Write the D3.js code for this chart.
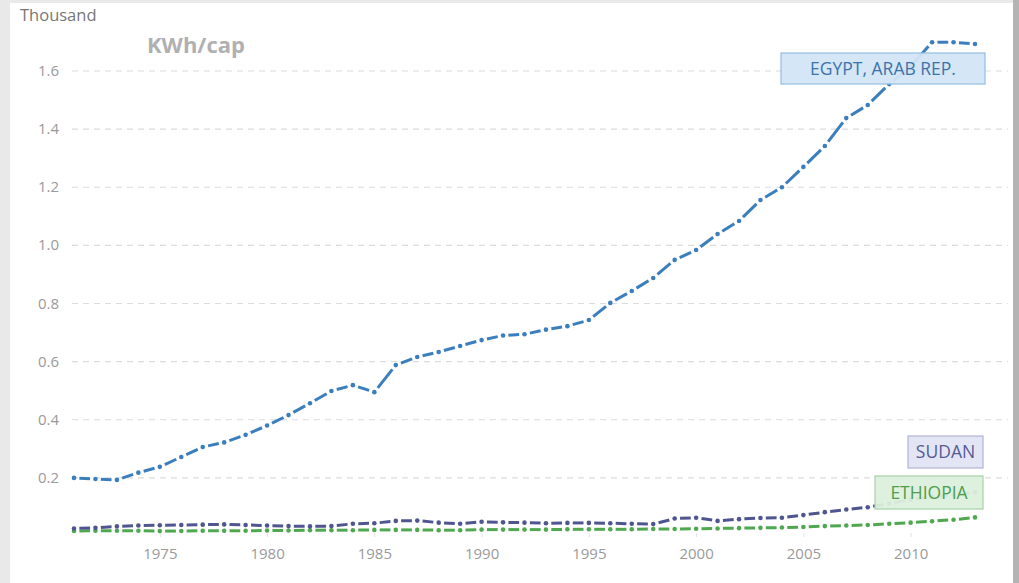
<!DOCTYPE html>
<html>
<head>
<meta charset="utf-8">
<script src="https://cdn.jsdelivr.net/npm/d3@7"></script>
<style>
  body { margin: 0; background: #fff; }
  svg { display: block; font-family: "Open Sans", sans-serif; }
</style>
</head>
<body>
<svg id="chart" width="1019" height="583"></svg>
<script>
// years 1971-2013
const years = [1971, 1972, 1973, 1974, 1975, 1976, 1977, 1978, 1979, 1980,
  1981, 1982, 1983, 1984, 1985, 1986, 1987, 1988, 1989, 1990,
  1991, 1992, 1993, 1994, 1995, 1996, 1997, 1998, 1999, 2000,
  2001, 2002, 2003, 2004, 2005, 2006, 2007, 2008, 2009, 2010,
  2011, 2012, 2013];

// thousand KWh per capita
const egypt = [0.200, 0.196, 0.193, 0.218, 0.238, 0.272, 0.306, 0.322, 0.348, 0.380,
  0.416, 0.457, 0.499, 0.519, 0.495, 0.588, 0.616, 0.633, 0.654, 0.674,
  0.690, 0.694, 0.710, 0.722, 0.743, 0.802, 0.843, 0.888, 0.950, 0.984,
  1.039, 1.084, 1.156, 1.200, 1.270, 1.342, 1.438, 1.483, 1.555, 1.615,
  1.699, 1.699, 1.693];

const sudan = [0.026, 0.028, 0.033, 0.036, 0.037, 0.038, 0.039, 0.040, 0.038, 0.036,
  0.034, 0.033, 0.034, 0.042, 0.044, 0.052, 0.053, 0.046, 0.042, 0.049,
  0.047, 0.046, 0.044, 0.045, 0.045, 0.044, 0.042, 0.041, 0.060, 0.063,
  0.052, 0.058, 0.062, 0.063, 0.072, 0.082, 0.091, 0.099, 0.112, 0.125,
  0.135, 0.142, 0.150];

const ethiopia = [0.017, 0.018, 0.018, 0.018, 0.017, 0.017, 0.018, 0.018, 0.018, 0.019,
  0.019, 0.020, 0.020, 0.020, 0.021, 0.021, 0.021, 0.020, 0.020, 0.022,
  0.022, 0.022, 0.022, 0.023, 0.023, 0.023, 0.023, 0.024, 0.024, 0.025,
  0.026, 0.027, 0.028, 0.029, 0.031, 0.034, 0.036, 0.038, 0.042, 0.046,
  0.051, 0.056, 0.064];

const yTicks = [0.2, 0.4, 0.6, 0.8, 1.0, 1.2, 1.4, 1.6];
const xTicks = [1975, 1980, 1985, 1990, 1995, 2000, 2005, 2010];

const series = [
  { name: 'EGYPT, ARAB REP.', values: egypt, color: '#3b7ebd', fill: '#d3e5f5', stroke: '#93bde0', text: '#3c74aa' },
  { name: 'SUDAN', values: sudan, color: '#4f5591', fill: '#e3e4f3', stroke: '#b1b3d6', text: '#545c97' },
  { name: 'ETHIOPIA', values: ethiopia, color: '#4fa84f', fill: '#dcf0dc', stroke: '#a6d3a6', text: '#4e9e4e' }
];

const svg = d3.select('#chart');
const width = +svg.attr('width');
const height = +svg.attr('height');

// screenshot frame
svg.append('rect').attr('width', width).attr('height', height).attr('fill', '#e9e9e9');
svg.append('rect').attr('x', 10).attr('y', 3).attr('width', 1003).attr('height', height - 3).attr('fill', '#fff');
svg.append('rect').attr('x', 1013).attr('y', 0).attr('width', 6).attr('height', height).attr('fill', '#b4b4b4');

const x = d3.scaleLinear().domain([1971, 2013]).range([74, 975]);
const y = d3.scaleLinear().domain([0, 1.6]).range([536, 71]);

// gridlines
svg.append('g')
  .selectAll('line')
  .data(yTicks)
  .join('line')
  .attr('x1', 72).attr('x2', 1008)
  .attr('y1', d => y(d)).attr('y2', d => y(d))
  .attr('stroke', '#dcdcdc')
  .attr('stroke-width', 1.2)
  .attr('stroke-dasharray', '6,5');

// y labels
svg.append('g')
  .selectAll('text')
  .data(yTicks)
  .join('text')
  .attr('x', 59)
  .attr('y', d => y(d) + 5)
  .attr('text-anchor', 'end')
  .attr('font-size', 15)
  .attr('fill', '#9a9a9a')
  .text(d => d.toFixed(1));

// x axis
const xAxis = svg.append('g')
  .attr('transform', `translate(0,533)`)
  .call(d3.axisBottom(x).tickValues(xTicks).tickFormat(d3.format('d')).tickSize(4).tickPadding(11));
xAxis.select('.domain').remove();
xAxis.selectAll('line').attr('stroke', '#e2e2e2');
xAxis.selectAll('text')
  .attr('font-family', '"Open Sans", sans-serif')
  .attr('font-size', 15)
  .attr('fill', '#9a9a9a');

svg.append('text')
  .attr('x', 20).attr('y', 21)
  .attr('font-size', 16.5)
  .attr('fill', '#777')
  .text('Thousand');

svg.append('text')
  .attr('x', 147).attr('y', 53)
  .attr('font-size', 22)
  .attr('font-weight', 'bold')
  .attr('fill', '#b0b0b0')
  .text('KWh/cap');

// lines: dash between points, dot on each point
const drawOrder = [series[2], series[1], series[0]];
drawOrder.forEach(s => {
  const pts = years.map((yr, i) => [x(yr), y(s.values[i])]);
  const segs = d3.pairs(pts).map(([a, b]) => {
    const dx = b[0] - a[0], dy = b[1] - a[1];
    const len = Math.hypot(dx, dy);
    const gap = Math.min(5.5, len / 4);
    return {
      x1: a[0] + dx * gap / len, y1: a[1] + dy * gap / len,
      x2: b[0] - dx * gap / len, y2: b[1] - dy * gap / len
    };
  });
  const g = svg.append('g');
  g.selectAll('line')
    .data(segs)
    .join('line')
    .attr('x1', d => d.x1).attr('y1', d => d.y1)
    .attr('x2', d => d.x2).attr('y2', d => d.y2)
    .attr('stroke', s.color)
    .attr('stroke-width', 3)
    .attr('stroke-linecap', 'butt');
  g.selectAll('circle')
    .data(pts)
    .join('circle')
    .attr('cx', d => d[0]).attr('cy', d => d[1])
    .attr('r', 2.3)
    .attr('fill', s.color);
});

// line labels
const labels = [
  { s: series[0], x: 781, y: 53, w: 204, h: 31 },
  { s: series[1], x: 908, y: 436, w: 75, h: 32 },
  { s: series[2], x: 875, y: 476, w: 108, h: 33 }
];
labels.forEach(l => {
  svg.append('rect')
    .attr('x', l.x).attr('y', l.y).attr('width', l.w).attr('height', l.h)
    .attr('fill', l.s.fill).attr('fill-opacity', 0.95)
    .attr('stroke', l.s.stroke).attr('stroke-width', 1.2);
  svg.append('text')
    .attr('x', l.x + l.w / 2).attr('y', l.y + l.h / 2 + 6)
    .attr('text-anchor', 'middle')
    .attr('font-size', 17.5)
    .attr('fill', l.s.text)
    .text(l.s.name);
});
</script>
</body>
</html>
